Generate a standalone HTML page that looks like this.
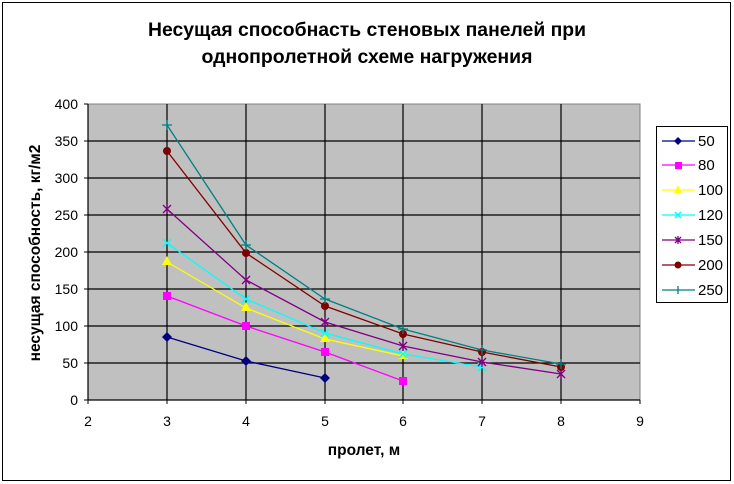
<!DOCTYPE html>
<html><head><meta charset="utf-8"><style>
html,body{margin:0;padding:0;background:#fff;}
svg{display:block;font-family:"Liberation Sans",Arial,sans-serif;}
</style></head><body>
<svg width="734" height="484" viewBox="0 0 734 484" xmlns="http://www.w3.org/2000/svg">
<rect x="2.5" y="2.5" width="728" height="478" fill="#fff" stroke="#000"/>
<text x="367" y="36" text-anchor="middle" font-size="19" font-weight="bold" textLength="438" lengthAdjust="spacingAndGlyphs">Несущая способнасть стеновых панелей при</text>
<text x="367" y="63" text-anchor="middle" font-size="19" font-weight="bold" textLength="331" lengthAdjust="spacingAndGlyphs">однопролетной схеме нагружения</text>
<rect x="88" y="104" width="552" height="296" fill="#c0c0c0" stroke="#808080"/>
<g stroke="#000" stroke-width="1.2">
<line x1="88" y1="141" x2="640" y2="141"/><line x1="88" y1="178" x2="640" y2="178"/>
<line x1="88" y1="215" x2="640" y2="215"/><line x1="88" y1="252" x2="640" y2="252"/>
<line x1="88" y1="289" x2="640" y2="289"/><line x1="88" y1="326" x2="640" y2="326"/>
<line x1="88" y1="363" x2="640" y2="363"/>
<line x1="167" y1="104" x2="167" y2="400"/><line x1="246" y1="104" x2="246" y2="400"/>
<line x1="325" y1="104" x2="325" y2="400"/><line x1="403" y1="104" x2="403" y2="400"/>
<line x1="482" y1="104" x2="482" y2="400"/><line x1="561" y1="104" x2="561" y2="400"/>
<line x1="88" y1="400" x2="640" y2="400"/><line x1="88" y1="104" x2="88" y2="400"/>
</g>
<g stroke="#000">
<line x1="84" y1="104" x2="88" y2="104"/><line x1="84" y1="141" x2="88" y2="141"/><line x1="84" y1="178" x2="88" y2="178"/><line x1="84" y1="215" x2="88" y2="215"/><line x1="84" y1="252" x2="88" y2="252"/><line x1="84" y1="289" x2="88" y2="289"/><line x1="84" y1="326" x2="88" y2="326"/><line x1="84" y1="363" x2="88" y2="363"/><line x1="84" y1="400" x2="88" y2="400"/>
<line x1="88" y1="400" x2="88" y2="404"/><line x1="167" y1="400" x2="167" y2="404"/><line x1="246" y1="400" x2="246" y2="404"/><line x1="325" y1="400" x2="325" y2="404"/><line x1="403" y1="400" x2="403" y2="404"/><line x1="482" y1="400" x2="482" y2="404"/><line x1="561" y1="400" x2="561" y2="404"/><line x1="640" y1="400" x2="640" y2="404"/>
</g>
<g font-size="14" text-anchor="end">
<text x="78" y="109">400</text><text x="78" y="146">350</text><text x="78" y="183">300</text><text x="78" y="220">250</text><text x="78" y="257">200</text><text x="78" y="294">150</text><text x="78" y="331">100</text><text x="78" y="368">50</text><text x="78" y="405">0</text>
</g>
<g font-size="14" text-anchor="middle">
<text x="88" y="426">2</text><text x="167" y="426">3</text><text x="246" y="426">4</text><text x="325" y="426">5</text><text x="403" y="426">6</text><text x="482" y="426">7</text><text x="561" y="426">8</text><text x="640" y="426">9</text>
</g>
<text x="364" y="455" text-anchor="middle" font-size="15.5" font-weight="bold">пролет, м</text>
<text transform="translate(40,253) rotate(-90)" text-anchor="middle" font-size="15.5" font-weight="bold">несущая способность, кг/м2</text>
<g fill="none" stroke-width="1.3">
<polyline stroke="#000080" points="167,337 246,361 325,378"/>
<polyline stroke="#ff00ff" points="167,296 246,326 325,352 403,381"/>
<polyline stroke="#ffff00" points="167,262 246,308 325,339 403,356"/>
<polyline stroke="#00ffff" points="167,243 246,299 325,333 403,354 482,367"/>
<polyline stroke="#800080" points="167,209 246,280 325,322 403,346 482,362 561,374"/>
<polyline stroke="#800000" points="167,151 246,253 325,306 403,334 482,352 561,367"/>
<polyline stroke="#008080" points="167,125 246,245 325,299 403,329 482,350 561,364"/>
</g>
<g fill="#000080"><path d="M167,332 l5,5 -5,5 -5,-5z M246,356 l5,5 -5,5 -5,-5z M325,373 l5,5 -5,5 -5,-5z"/></g>
<g fill="#ff00ff"><rect x="163" y="292" width="8" height="8"/><rect x="242" y="322" width="8" height="8"/><rect x="321" y="348" width="8" height="8"/><rect x="399" y="377" width="8" height="8"/></g>
<g fill="#ffff00"><path d="M167,256 l5,9 h-10z M246,302 l5,9 h-10z M325,333 l5,9 h-10z M403,350 l5,9 h-10z"/></g>
<g stroke="#00ffff" stroke-width="1.5"><path d="M163,239 l8,8 M171,239 l-8,8 M242,295 l8,8 M250,295 l-8,8 M321,329 l8,8 M329,329 l-8,8 M399,350 l8,8 M407,350 l-8,8 M478,363 l8,8 M486,363 l-8,8"/></g>
<g stroke="#800080" stroke-width="1.3"><path d="M163,205 l8,8 M171,205 l-8,8 M167,204 v10 M242,276 l8,8 M250,276 l-8,8 M246,275 v10 M321,318 l8,8 M329,318 l-8,8 M325,317 v10 M399,342 l8,8 M407,342 l-8,8 M403,341 v10 M478,358 l8,8 M486,358 l-8,8 M482,357 v10 M557,370 l8,8 M565,370 l-8,8 M561,369 v10"/></g>
<g fill="#800000"><circle cx="167" cy="151" r="4"/><circle cx="246" cy="253" r="4"/><circle cx="325" cy="306" r="4"/><circle cx="403" cy="334" r="4"/><circle cx="482" cy="352" r="4"/><circle cx="561" cy="367" r="4"/></g>
<g stroke="#008080" stroke-width="1.3"><path d="M162,125 h10 M167,120 v10 M241,245 h10 M246,240 v10 M320,299 h10 M325,294 v10 M398,329 h10 M403,324 v10 M477,350 h10 M482,345 v10 M556,364 h10 M561,359 v10"/></g>
<rect x="656.5" y="126.5" width="71" height="176" fill="#fff" stroke="#000"/>
<g stroke-width="1.3">
<line x1="662" y1="141" x2="695" y2="141" stroke="#000080"/>
<line x1="662" y1="165" x2="695" y2="165" stroke="#ff00ff"/>
<line x1="662" y1="190" x2="695" y2="190" stroke="#ffff00"/>
<line x1="662" y1="215" x2="695" y2="215" stroke="#00ffff"/>
<line x1="662" y1="240" x2="695" y2="240" stroke="#800080"/>
<line x1="662" y1="265" x2="695" y2="265" stroke="#800000"/>
<line x1="662" y1="290" x2="695" y2="290" stroke="#008080"/>
</g>
<path d="M678,137 l4,4 -4,4 -4,-4z" fill="#000080"/>
<rect x="675" y="162" width="7" height="7" fill="#ff00ff"/>
<path d="M678,185 l4,8 h-8z" fill="#ffff00"/>
<path d="M675,212 l6,6 M681,212 l-6,6" stroke="#00ffff" stroke-width="1.5"/>
<path d="M675,237 l6,6 M681,237 l-6,6 M678,236 v8" stroke="#800080" stroke-width="1.3"/>
<circle cx="678" cy="265" r="3.5" fill="#800000"/>
<path d="M678,286 v8" stroke="#008080" stroke-width="1.3"/>
<g font-size="15">
<text x="698" y="146">50</text><text x="698" y="170">80</text><text x="698" y="195">100</text><text x="698" y="220">120</text><text x="698" y="245">150</text><text x="698" y="270">200</text><text x="698" y="295">250</text>
</g>
</svg>
</body></html>
